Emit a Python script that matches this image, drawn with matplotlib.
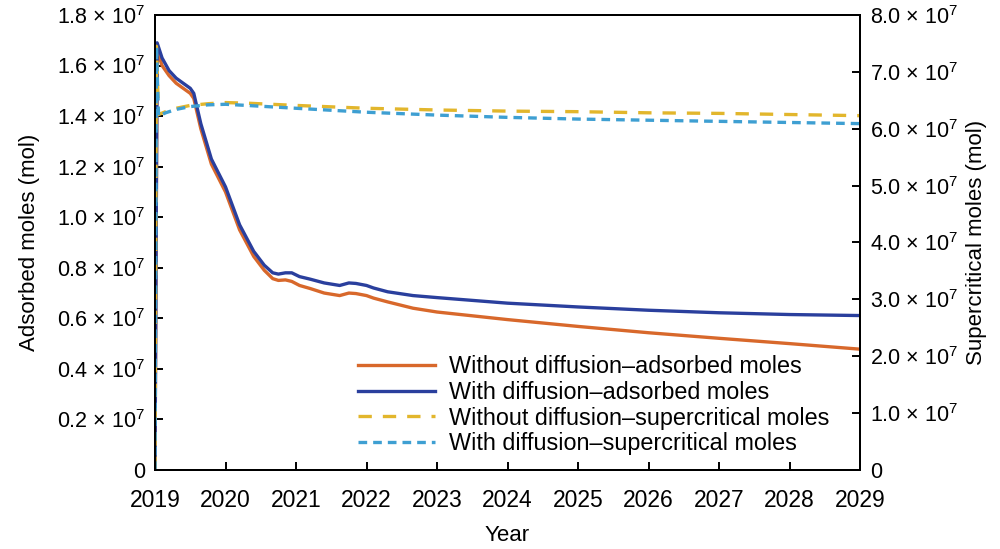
import numpy as np
import matplotlib
matplotlib.use("Agg")
import matplotlib.pyplot as plt

plt.rcParams["font.family"] = ["Liberation Sans", "DejaVu Sans"]
plt.rcParams["mathtext.fontset"] = "custom"
plt.rcParams["mathtext.rm"] = "Liberation Sans"
plt.rcParams["mathtext.it"] = "Liberation Sans"

# adsorbed moles (1e7 mol), left axis
t_ads = [2019.0, 2019.03, 2019.1, 2019.2, 2019.3, 2019.4, 2019.5, 2019.55, 2019.65,
         2019.8, 2020.0, 2020.2, 2020.4, 2020.55, 2020.67, 2020.75, 2020.85, 2020.94,
         2021.05, 2021.2, 2021.4, 2021.62, 2021.75, 2021.85, 2022.0, 2022.1, 2022.3,
         2022.66, 2023.0, 2024.0, 2025.0, 2026.0, 2027.0, 2028.0, 2029.0]
ads_nodiff = [0.0, 1.66, 1.60, 1.56, 1.53, 1.51, 1.49, 1.47, 1.35,
              1.21, 1.10, 0.95, 0.845, 0.79, 0.757, 0.75, 0.752, 0.746,
              0.73, 0.718, 0.70, 0.69, 0.70, 0.698, 0.69, 0.68, 0.665,
              0.64, 0.625, 0.595, 0.568, 0.543, 0.521, 0.500, 0.478]
ads_diff = [0.0, 1.69, 1.63, 1.58, 1.55, 1.53, 1.51, 1.49, 1.37,
            1.23, 1.12, 0.97, 0.865, 0.81, 0.78, 0.775, 0.78, 0.78,
            0.765, 0.755, 0.74, 0.73, 0.74, 0.738, 0.73, 0.72, 0.705,
            0.69, 0.682, 0.66, 0.645, 0.632, 0.622, 0.615, 0.611]

# supercritical moles (1e7 mol), right axis
t_sc = [2019.0, 2019.02, 2019.05, 2019.15, 2019.3, 2019.5, 2019.75, 2020.0, 2020.3,
        2021.0, 2022.0, 2023.0, 2024.0, 2025.0, 2026.0, 2027.0, 2028.0, 2029.0]
sc_nodiff = [0.0, 7.45, 6.25, 6.30, 6.36, 6.41, 6.44, 6.46, 6.45,
             6.41, 6.36, 6.33, 6.31, 6.30, 6.28, 6.27, 6.25, 6.23]
sc_diff = [0.0, 7.45, 6.22, 6.28, 6.34, 6.39, 6.42, 6.43, 6.41,
           6.36, 6.29, 6.24, 6.20, 6.17, 6.15, 6.13, 6.11, 6.09]

left_ticks = [0, 0.2, 0.4, 0.6, 0.8, 1.0, 1.2, 1.4, 1.6, 1.8]
right_ticks = [0, 1, 2, 3, 4, 5, 6, 7, 8]
years = list(range(2019, 2030))

C_OR, C_BL, C_YE, C_LB = "#d8682b", "#2a3f9d", "#e2b62c", "#3e9fd2"


def sci(v):
    return "0" if v == 0 else f"{v:.1f} \u00d7 10$^{{7}}$"


fig = plt.figure(figsize=(10, 5.49), dpi=100)
ax = fig.add_axes([0.155, 0.1439, 0.705, 0.8288])
ax2 = ax.twinx()

l1, = ax.plot(t_ads, np.array(ads_nodiff) * 1e7, color=C_OR, lw=2.4,
              label="Without diffusion\u2013adsorbed moles")
l2, = ax.plot(t_ads, np.array(ads_diff) * 1e7, color=C_BL, lw=2.4,
              label="With diffusion\u2013adsorbed moles")
l3, = ax2.plot(t_sc, np.array(sc_nodiff) * 1e7, color=C_YE, lw=2.4, dashes=(4, 3.3),
               label="Without diffusion\u2013supercritical moles")
l4, = ax2.plot(t_sc, np.array(sc_diff) * 1e7, color=C_LB, lw=2.4, dashes=(2.6, 1.8),
               label="With diffusion\u2013supercritical moles")

ax.set_xlim(2019, 2029)
ax.set_ylim(0, 1.8e7)
ax2.set_ylim(0, 8e7)
ax.set_xticks(years)
ax.set_xticklabels([str(y) for y in years])
ax.set_yticks([v * 1e7 for v in left_ticks])
ax.set_yticklabels([sci(v) for v in left_ticks])
ax2.set_yticks([v * 1e7 for v in right_ticks])
ax2.set_yticklabels([sci(v) for v in right_ticks])

for a in (ax, ax2):
    a.tick_params(direction="in", length=6, width=1.4, labelsize=15.5, pad=7)
    for s in a.spines.values():
        s.set_linewidth(1.4)
ax.tick_params(axis="x", pad=14, labelsize=16.5)

ax.set_xlabel("Year", fontsize=16, labelpad=9)
ax.set_ylabel("Adsorbed moles (mol)", fontsize=16, labelpad=12)
ax2.set_ylabel("Supercritical moles (mol)", fontsize=16, labelpad=6)

ax2.legend(handles=[l1, l2, l3, l4], loc="lower right", bbox_to_anchor=(0.983, -0.009),
           frameon=False, fontsize=16.8, handlelength=3.3, labelspacing=0.12,
           handletextpad=0.6, borderaxespad=0.4)

fig.savefig("out.png", dpi=100)
